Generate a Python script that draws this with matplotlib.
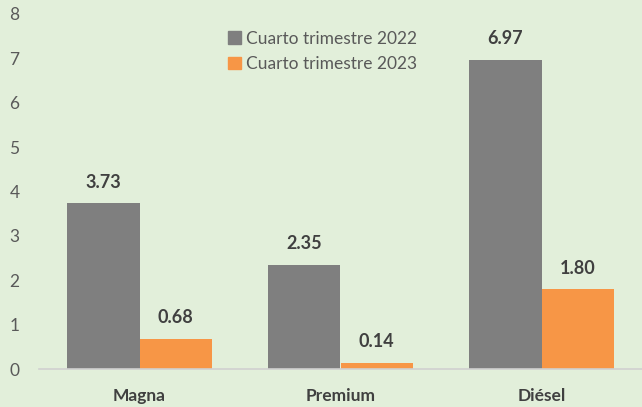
import matplotlib
matplotlib.use("Agg")
import matplotlib.pyplot as plt
import numpy as np
from matplotlib.patches import Patch

categories = ["Magna", "Premium", "Diésel"]
series_names = ["Cuarto trimestre 2022", "Cuarto trimestre 2023"]
values_2022 = [3.73, 2.35, 6.97]
values_2023 = [0.68, 0.14, 1.80]
yticks = [0, 1, 2, 3, 4, 5, 6, 7, 8]

bg = "#E2EFDA"
c22 = "#7F7F7F"
c23 = "#F79646"
txt = "#595959"
lab = "#404040"
font = "Lato"

fig = plt.figure(figsize=(6.42, 4.07), dpi=100, facecolor=bg)
W, H = 642, 407
ax = fig.add_axes([39 / W, 1 - 369 / H, (642 - 39) / W, (369 - 14) / H])
ax.set_facecolor(bg)

x = np.arange(len(categories))
bw = 0.36
b1 = ax.bar(x - bw / 2, values_2022, bw, color=c22, label=series_names[0])
b2 = ax.bar(x + bw / 2, values_2023, bw, color=c23, label=series_names[1])

for bars, vals in ((b1, values_2022), (b2, values_2023)):
    for rect, v in zip(bars, vals):
        ax.text(rect.get_x() + rect.get_width() / 2, v + 0.28, f"{v:.2f}",
                ha="center", va="bottom", fontsize=13, fontweight="bold",
                color=lab, family=font)

ax.set_xlim(-0.5, 2.5)
ax.set_ylim(0, 8)
ax.set_yticks(yticks)
ax.set_yticklabels([str(t) for t in yticks], family=font, fontsize=12.5, color=txt)
ax.set_xticks(x)
ax.set_xticklabels(categories, family=font, fontsize=12.5, fontweight="bold", color=lab)
ax.tick_params(axis="both", length=0)
ax.tick_params(axis="y", pad=14)
ax.tick_params(axis="x", pad=14)
for s in ("top", "right", "left"):
    ax.spines[s].set_visible(False)
ax.spines["bottom"].set_color("#D0D0D0")
ax.spines["bottom"].set_linewidth(1.2)

handles = [Patch(color=c22), Patch(color=c23)]
leg = ax.legend(handles, series_names, loc="upper left",
                bbox_to_anchor=(212 / W, 1 - 15 / H), bbox_transform=fig.transFigure,
                frameon=False, handlelength=0.75, handleheight=0.75,
                handletextpad=0.3, labelspacing=0.55,
                prop={"family": font, "size": 12.5})
for t in leg.get_texts():
    t.set_color(txt)

fig.savefig("out.png", dpi=100, facecolor=bg)
